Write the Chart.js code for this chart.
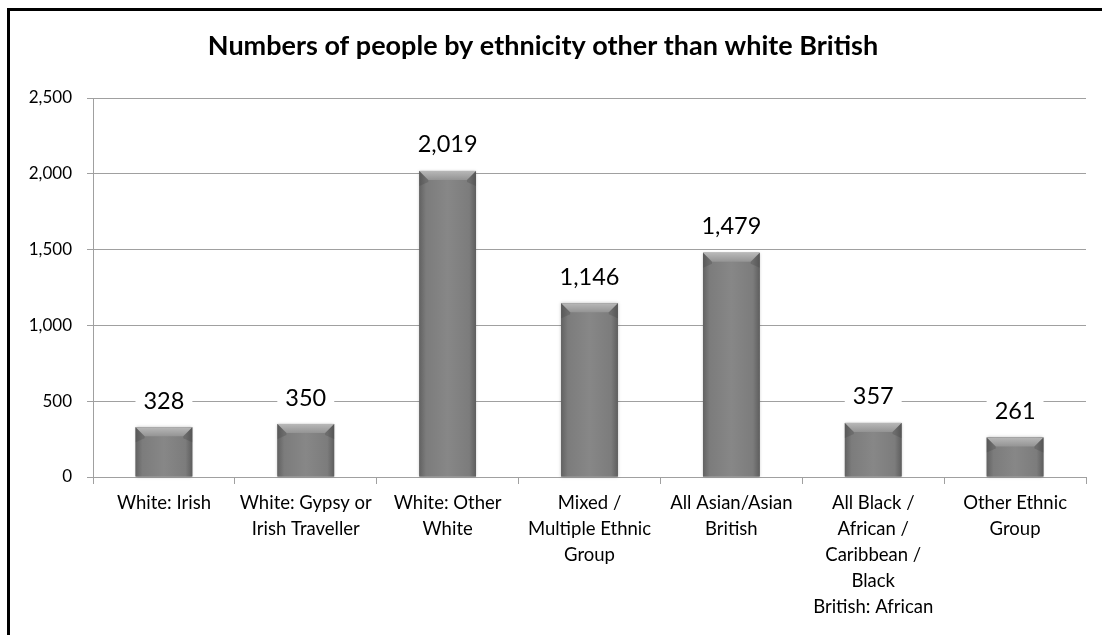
<!DOCTYPE html>
<html>
<head>
<meta charset="utf-8">
<script src="https://cdn.jsdelivr.net/npm/chart.js"></script>
<style>
  html, body { margin: 0; padding: 0; background: #fff; }
  #wrap { position: relative; width: 1102px; height: 635px; overflow: hidden; }
  #myChart { position: absolute; left: 0; top: 0; }
  /* the frame of the original image: only top and left edges are visible */
  #frame { position: absolute; left: 7px; top: 8px; right: -10px; bottom: -10px;
           border-left: 3px solid #000; border-top: 3px solid #000; pointer-events: none; }
</style>
</head>
<body>
<div id="wrap">
  <canvas id="myChart" width="1102" height="635"></canvas>
  <div id="frame"></div>
</div>
<script>
// Categories (split into lines like the original axis labels)
const categories = [
  ['White: Irish'],
  ['White: Gypsy or', 'Irish Traveller'],
  ['White: Other', 'White'],
  ['Mixed /', 'Multiple Ethnic', 'Group'],
  ['All Asian/Asian', 'British'],
  ['All Black /', 'African /', 'Caribbean /', 'Black', 'British: African'],
  ['Other Ethnic', 'Group']
];

// Number of people in each group
const people = [328, 350, 2019, 1146, 1479, 357, 261];

// Value axis
const yMin = 0;
const yMax = 2500;
const yStep = 500;

const titleText = 'Numbers of people by ethnicity other than white British';

// Draws the bevel look of the bars on top of the plain fill
const bevelPlugin = {
  id: 'bevel',
  afterDatasetsDraw(chart) {
    const ctx = chart.ctx;
    chart.getDatasetMeta(0).data.forEach(bar => {
      const p = bar.getProps(['x', 'y', 'base', 'width'], true);
      const l = p.x - p.width / 2, r = p.x + p.width / 2;
      const top = p.y, base = p.base;
      const b = 9;
      ctx.save();
      // soft shadow + side shading
      ctx.shadowColor = 'rgba(0,0,0,0.25)';
      ctx.shadowBlur = 3;
      const g = ctx.createLinearGradient(l, 0, r, 0);
      g.addColorStop(0, '#626262');
      g.addColorStop(0.12, '#7c7c7c');
      g.addColorStop(0.5, '#878787');
      g.addColorStop(0.88, '#7c7c7c');
      g.addColorStop(1, '#5e5e5e');
      ctx.fillStyle = g;
      ctx.fillRect(l, top, p.width, base - top);
      ctx.shadowColor = 'transparent';
      // top bevel
      const tg = ctx.createLinearGradient(0, top, 0, top + b);
      tg.addColorStop(0, '#b8b8b8');
      tg.addColorStop(1, '#949494');
      ctx.fillStyle = tg;
      ctx.beginPath();
      ctx.moveTo(l, top);
      ctx.lineTo(r, top);
      ctx.lineTo(r - b, top + b);
      ctx.lineTo(l + b, top + b);
      ctx.closePath();
      ctx.fill();
      // left and right bevel faces
      ctx.fillStyle = 'rgba(60,60,60,0.25)';
      ctx.beginPath();
      ctx.moveTo(l, top);
      ctx.lineTo(l + b, top + b);
      ctx.lineTo(l + b, top + b + 2);
      ctx.lineTo(l, top + b + 6);
      ctx.closePath();
      ctx.fill();
      ctx.beginPath();
      ctx.moveTo(r, top);
      ctx.lineTo(r - b, top + b);
      ctx.lineTo(r - b, top + b + 2);
      ctx.lineTo(r, top + b + 6);
      ctx.closePath();
      ctx.fill();
      ctx.restore();
    });
  }
};

// Value labels above bars, with a white box that breaks the gridline
const valueLabels = {
  id: 'valueLabels',
  afterDatasetsDraw(chart) {
    const ctx = chart.ctx;
    ctx.save();
    ctx.font = '23.5px Lato';
    ctx.textAlign = 'center';
    ctx.textBaseline = 'middle';
    chart.getDatasetMeta(0).data.forEach((bar, i) => {
      const txt = people[i].toLocaleString('en-US');
      const w = ctx.measureText(txt).width;
      const cy = bar.y - 26;
      ctx.fillStyle = '#fff';
      ctx.fillRect(bar.x - w / 2 - 8, cy - 13, w + 16, 26);
      ctx.fillStyle = '#000';
      ctx.fillText(txt, bar.x, cy);
    });
    ctx.restore();
  }
};

const myChart = document.getElementById('myChart');

let barChart = new Chart(myChart, {
  type: 'bar',
  data: {
    labels: categories,
    datasets: [{
      data: people,
      backgroundColor: '#808080',
      borderWidth: 0,
      barPercentage: 0.4,
      categoryPercentage: 1
    }]
  },
  options: {
    responsive: false,
    animation: false,
    layout: { padding: { left: 0, right: 16, top: 0, bottom: 0 } },
    plugins: {
      legend: { display: false },
      tooltip: { enabled: false },
      title: {
        display: true,
        text: titleText,
        color: '#000',
        font: { family: 'Lato', size: 27, weight: 'bold', lineHeight: 1.2 },
        padding: { top: 30, bottom: 35.6 }
      }
    },
    scales: {
      x: {
        grid: { drawOnChartArea: false, drawTicks: true, tickLength: 7, color: '#a0a0a0' },
        border: { color: '#a0a0a0', width: 1 },
        ticks: {
          color: '#000',
          font: { family: 'Lato', size: 18.5, lineHeight: 1.4 },
          padding: 6,
          maxRotation: 0,
          autoSkip: false
        },
        afterFit(scale) { scale.height = 158; }
      },
      y: {
        min: yMin,
        max: yMax,
        grid: { color: '#a0a0a0', tickLength: 6, lineWidth: 1 },
        border: { color: '#a0a0a0', width: 1 },
        ticks: {
          stepSize: yStep,
          color: '#000',
          font: { family: 'Lato', size: 17 },
          padding: 15
        },
        afterFit(scale) { scale.width = 93; }
      }
    }
  },
  plugins: [bevelPlugin, valueLabels]
});
</script>
</body>
</html>
